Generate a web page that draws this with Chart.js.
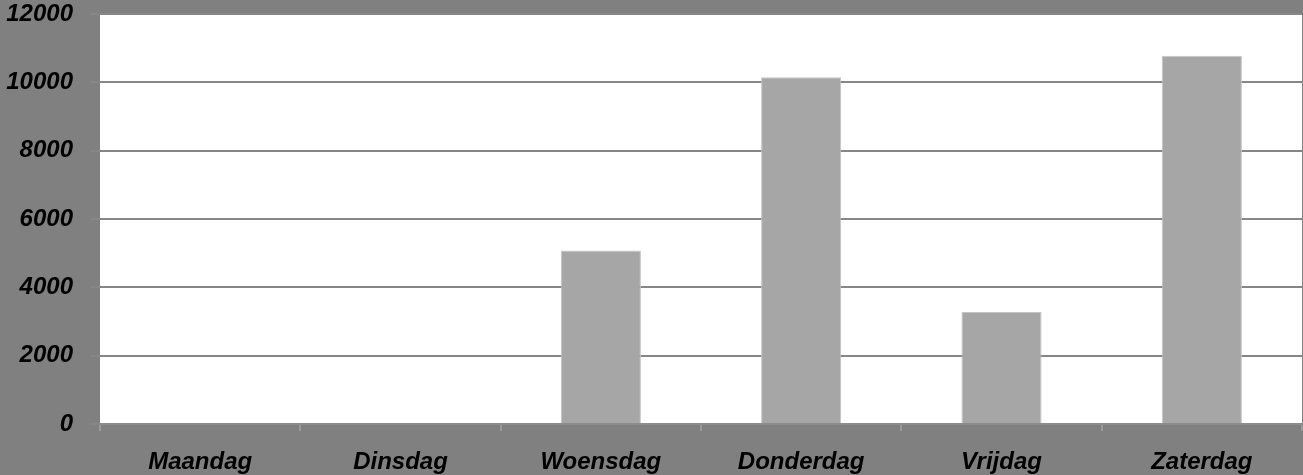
<!DOCTYPE html>
<html>
<head>
<meta charset="utf-8">
<script src="https://cdn.jsdelivr.net/npm/chart.js@4/dist/chart.umd.min.js"></script>
<style>
  html, body { margin: 0; padding: 0; background: #808080; }
  #wrap { width: 1303px; height: 475px; }
</style>
</head>
<body>
<div id="wrap"><canvas id="canvas"></canvas></div>
<script>
// chart values
var days = ["Maandag", "Dinsdag", "Woensdag", "Donderdag", "Vrijdag", "Zaterdag"];
var amounts = [0, 0, 5080, 10150, 3280, 10780];
var yMax = 12000;
var yStep = 2000;

// grey page plus white plot area
const backgroundPlugin = {
  id: "backgrounds",
  beforeDraw: (chart) => {
    const ctx = chart.ctx;
    const a = chart.chartArea;
    ctx.save();
    ctx.fillStyle = "#808080";
    ctx.fillRect(0, 0, chart.width, chart.height);
    ctx.fillStyle = "#ffffff";
    ctx.fillRect(a.left, a.top, a.right - a.left, a.bottom - a.top);
    ctx.restore();
  },
};

const labelFont = { family: "Liberation Sans", size: 24, weight: "bold", style: "italic" };

const config = {
  type: "bar",
  data: {
    labels: days,
    datasets: [
      {
        data: amounts,
        backgroundColor: "#a6a6a6",
        borderColor: "#c4c4c4",
        borderWidth: 1,
        barPercentage: 0.4,
        categoryPercentage: 1.0,
      },
    ],
  },
  options: {
    responsive: true,
    maintainAspectRatio: false,
    animation: false,
    layout: { padding: { top: 14, right: 1, left: 0, bottom: 0 } },
    plugins: {
      legend: { display: false },
      tooltip: { enabled: false },
    },
    scales: {
      x: {
        grid: {
          display: true,
          drawOnChartArea: false,
          offset: true,
          tickLength: 7,
          tickColor: "#9a9a9a",
          lineWidth: 2,
        },
        border: { display: true, color: "#8c8c8c", width: 2 },
        ticks: { color: "#000", font: labelFont, padding: 17, maxRotation: 0 },
        afterFit: (scale) => {
          scale.height = 51;
          scale.paddingLeft = 0;
          scale.paddingRight = 0;
        },
      },
      y: {
        min: 0,
        max: yMax,
        grid: {
          color: "#868686",
          lineWidth: 2,
          tickLength: 10,
          tickColor: "#868686",
        },
        border: { display: false },
        ticks: {
          stepSize: yStep,
          color: "#000",
          font: labelFont,
          padding: 17,
          callback: (v) => String(v),
        },
        afterFit: (scale) => {
          scale.width = 100;
          scale.paddingTop = 0;
          scale.paddingBottom = 0;
        },
      },
    },
  },
  plugins: [backgroundPlugin],
};

const myChart = new Chart(document.getElementById("canvas"), config);
</script>
</body>
</html>
